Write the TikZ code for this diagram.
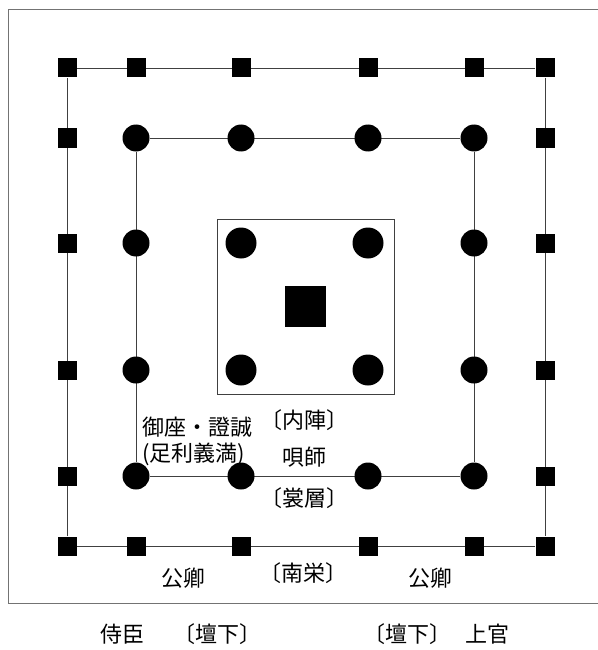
\documentclass[tikz,border=0pt]{standalone}
\usepackage{fontspec}
\newfontfamily\jpfont{Noto Sans CJK JP}
\usetikzlibrary{backgrounds}

\begin{document}
\begin{tikzpicture}[
    x=1pt, y=-1pt,
    pillar/.style={rectangle, fill=black, minimum size=19pt, inner sep=0pt},
    column/.style={circle, fill=black, minimum size=27pt, inner sep=0pt},
    bigcol/.style={circle, fill=black, minimum size=31pt, inner sep=0pt},
    wall/.style={draw=black!75, line width=0.8pt},
    label/.style={font=\jpfont\fontsize{22}{25}\selectfont, inner sep=0pt}
]
    \useasboundingbox (0,0) rectangle (597,650);

    % frame
    \draw[black!55, line width=1pt] (600,10) -- (8,10) -- (8,603) -- (600,603);

    % outer pillars
    \foreach \x [count=\i] in {67,136,241,368,474,545} {
        \node[pillar] (t\i) at (\x,68) {};
        \node[pillar] (b\i) at (\x,546) {};
    }
    \foreach \y [count=\j] in {138,243,370,476} {
        \node[pillar] (l\j) at (67,\y) {};
        \node[pillar] (r\j) at (545,\y) {};
    }

    % ring of columns
    \foreach \x [count=\i] in {136,241,368,474} {
        \node[column] (ct\i) at (\x,138) {};
        \node[column] (cb\i) at (\x,476) {};
    }
    \foreach \y [count=\j] in {243,370} {
        \node[column] (cl\j) at (136,\y) {};
        \node[column] (cr\j) at (474,\y) {};
    }

    % inner sanctum
    \node[wall, rectangle, minimum width=177pt, minimum height=175pt] (naijin) at (305.5,306.5) {};
    \foreach \x/\y [count=\k] in {241/243, 368/243, 241/370, 368/370}
        \node[bigcol] (n\k) at (\x,\y) {};
    \node[rectangle, fill=black, minimum size=41pt, inner sep=0pt] (altar) at (305,306) {};

    \begin{scope}[on background layer]
        \draw[wall] (t1) -- (t6) -- (b6) -- (b1) -- (t1);
        \draw[wall] (ct1) -- (ct4) -- (cb4) -- (cb1) -- (ct1);
    \end{scope}

    % labels
    \node[label, anchor=west] (gyoza) at (142,427) {御座・證誠};
    \node[label, anchor=west] (yoshimitsu) at (142,454) {(足利義満)};
    \node[label] (naijintxt) at (304,420) {〔内陣〕};
    \node[label] (baishi) at (304,457) {唄師};
    \node[label] (mokoshi) at (304,498) {〔裳層〕};
    \node[label] (kugyo1) at (183,578) {公卿};
    \node[label] (nanei) at (303,573) {〔南栄〕};
    \node[label] (kugyo2) at (430,578) {公卿};
    \node[label] (jishin) at (122,634) {侍臣};
    \node[label] (danka1) at (217,634) {〔壇下〕};
    \node[label] (danka2) at (407,634) {〔壇下〕};
    \node[label] (jokan) at (487,634) {上官};

\end{tikzpicture}
\end{document}
